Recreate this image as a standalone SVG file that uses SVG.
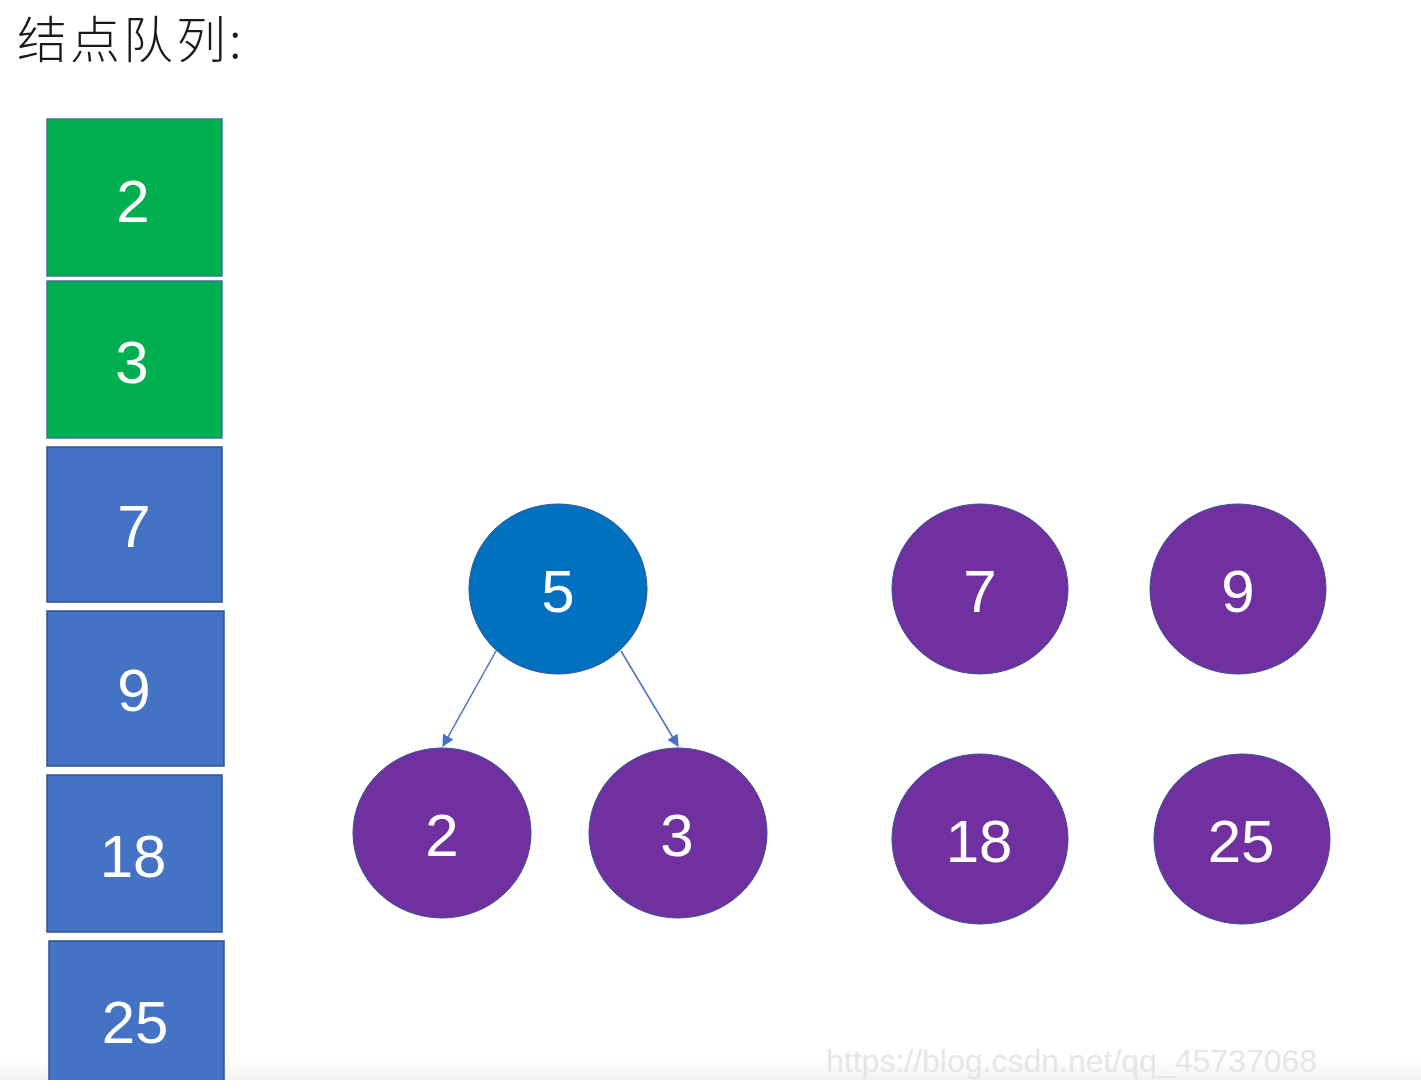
<svg xmlns="http://www.w3.org/2000/svg" width="1421" height="1090" viewBox="0 0 1421 1090">
<defs>
<style>
.green{fill:#00B050;stroke:#41719C;stroke-width:1.5}
.blue{fill:#4472C4;stroke:#2F528F;stroke-width:1.5}
.root{fill:#0070C0;stroke:#2F528F;stroke-width:1}
.purple{fill:#7030A0;stroke:#2F528F;stroke-width:1}
.num{font-family:"Liberation Sans","Noto Sans",sans-serif;font-size:60px;fill:#ffffff;text-anchor:middle}
.title{font-family:"Noto Sans CJK SC",sans-serif;font-size:50px;fill:#1a1a1a;font-weight:300}
.edge{stroke:#4472C4;stroke-width:1.5;fill:none;marker-end:url(#arr)}
</style>
<marker id="arr" viewBox="0 0 10 10" refX="9" refY="5" markerWidth="12" markerHeight="12" markerUnits="userSpaceOnUse" orient="auto">
<path d="M0,0 L10,5 L0,10 z" fill="#4472C4"/>
</marker>
<linearGradient id="strip" x1="0" y1="0" x2="0" y2="1">
<stop offset="0" stop-color="#ffffff"/>
<stop offset="1" stop-color="#f2f2f2"/>
</linearGradient>
</defs>
<rect width="1421" height="1090" fill="#ffffff"/>
<rect x="0" y="1060" width="1421" height="20" fill="url(#strip)"/>
<text class="title" x="17" y="58" letter-spacing="3">结点队列</text>
<text class="title" x="229" y="58">:</text>
<g id="q2"><rect class="green" x="47" y="119" width="175" height="157"/><text class="num" x="133" y="222">2</text></g>
<g id="q3"><rect class="green" x="47" y="281" width="175" height="157"/><text class="num" x="132" y="383">3</text></g>
<g id="q7"><rect class="blue" x="47" y="447" width="175" height="155"/><text class="num" x="134" y="547">7</text></g>
<g id="q9"><rect class="blue" x="47" y="611" width="177" height="155"/><text class="num" x="134" y="711">9</text></g>
<g id="q18"><rect class="blue" x="47" y="775" width="175" height="157"/><text class="num" x="133" y="877">18</text></g>
<g id="q25"><rect class="blue" x="49" y="941" width="175" height="145"/><text class="num" x="135" y="1043">25</text></g>
<rect x="0" y="1080" width="1421" height="10" fill="#ffffff"/>
<g id="connectors">
<line class="edge" x1="496" y1="651" x2="443" y2="746"/>
<line class="edge" x1="621" y1="651" x2="678" y2="746"/>
</g>
<g id="n5"><ellipse class="root" cx="558" cy="589" rx="89" ry="85"/><text class="num" x="558" y="612">5</text></g>
<g id="n2"><ellipse class="purple" cx="442" cy="833" rx="89" ry="85"/><text class="num" x="442" y="856">2</text></g>
<g id="n3"><ellipse class="purple" cx="678" cy="833" rx="89" ry="85"/><text class="num" x="677" y="856">3</text></g>
<g id="n7"><ellipse class="purple" cx="980" cy="589" rx="88" ry="85"/><text class="num" x="980" y="612">7</text></g>
<g id="n9"><ellipse class="purple" cx="1238" cy="589" rx="88" ry="85"/><text class="num" x="1238" y="612">9</text></g>
<g id="n18"><ellipse class="purple" cx="980" cy="839" rx="88" ry="85"/><text class="num" x="979" y="862">18</text></g>
<g id="n25"><ellipse class="purple" cx="1242" cy="839" rx="88" ry="85"/><text class="num" x="1241" y="862">25</text></g>
<text x="826" y="1072" font-family="Liberation Sans,sans-serif" font-size="32" fill="#e6e6e6">https://blog.csdn.net/qq_45737068</text>
</svg>
